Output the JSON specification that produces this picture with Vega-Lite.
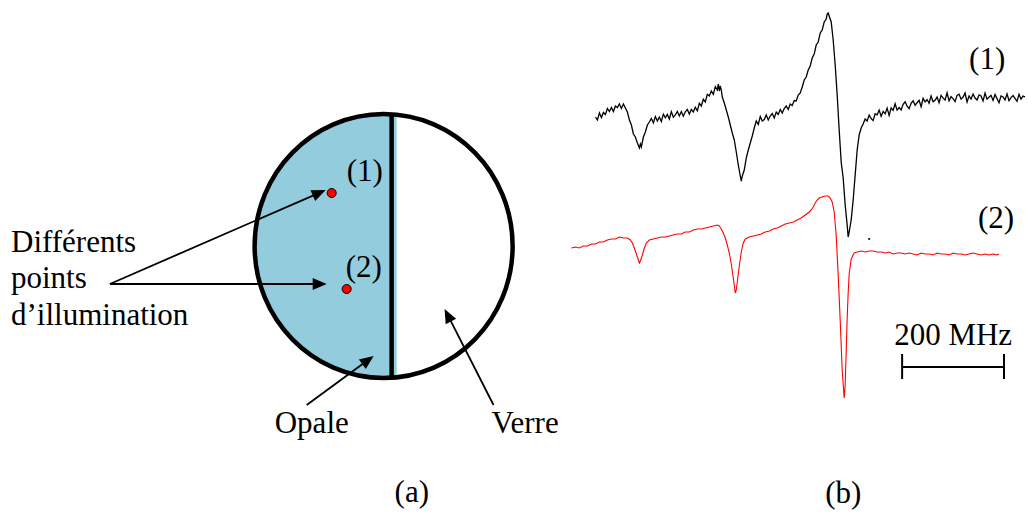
{
  "$schema": "https://vega.github.io/schema/vega-lite/v6.json",
  "autosize": {"type": "fit", "contains": "padding"},
  "width": 1028,
  "height": 513,
  "padding": 0,
  "background": "white",
  "config": {"view": {"stroke": null}},
  "datasets": {
    "center": [{"x": 384, "y": 246}],
    "divider": [{"x": 392, "y": 114, "x2": 392, "y2": 378}],
    "dots": [{"x": 332, "y": 193}, {"x": 347, "y": 289}],
    "shafts": [
      {"x": 110, "y": 284, "x2": 315, "y2": 194.8},
      {"x": 110, "y": 284, "x2": 315, "y2": 284},
      {"x": 307, "y": 405, "x2": 364.3, "y2": 363.1},
      {"x": 494, "y": 405, "x2": 450.5, "y2": 319.7}
    ],
    "heads": [
      {"x": 326, "y": 190, "angle": 336.5},
      {"x": 327, "y": 284, "angle": 0},
      {"x": 374, "y": 356, "angle": 323.8},
      {"x": 445, "y": 309, "angle": 243}
    ],
    "scalebar": [
      {"x": 903, "y": 367, "x2": 1005, "y2": 367},
      {"x": 903, "y": 354, "x2": 903, "y2": 379},
      {"x": 1005, "y": 354, "x2": 1005, "y2": 379}
    ],
    "labels": [
      {"x": 11, "y": 252, "t": "Différents"},
      {"x": 11, "y": 288, "t": "points"},
      {"x": 11, "y": 325, "t": "d’illumination"},
      {"x": 347, "y": 181, "t": "(1)"},
      {"x": 346, "y": 277, "t": "(2)"},
      {"x": 275, "y": 433, "t": "Opale"},
      {"x": 492, "y": 433, "t": "Verre"},
      {"x": 395, "y": 502, "t": "(a)"},
      {"x": 826, "y": 503, "t": "(b)"},
      {"x": 970, "y": 69, "t": "(1)"},
      {"x": 979, "y": 228, "t": "(2)"},
      {"x": 895, "y": 345, "t": "200 MHz"}
    ],
    "speck": [{"x": 870, "y": 239}],
    "trace1": [
      {"x":596,"y":117},{"x":598,"y":120},{"x":600,"y":113},{"x":602,"y":117.5},{"x":604,"y":112.5},{"x":606,"y":114.5},{"x":608,"y":108.5},{"x":610,"y":111.5},{"x":612,"y":107.5},{"x":614,"y":111.5},{"x":616,"y":106},{"x":618,"y":107.5},{"x":620,"y":104},{"x":622,"y":108.5},{"x":624,"y":104},{"x":626,"y":108},{"x":628,"y":112},{"x":630,"y":120},{"x":632,"y":125},{"x":634,"y":134},{"x":636,"y":137},{"x":638,"y":143},{"x":640,"y":148},{"x":641,"y":144},{"x":642,"y":147},{"x":644,"y":137},{"x":646,"y":132},{"x":648,"y":125},
      {"x":650,"y":122},{"x":652,"y":118.5},{"x":654,"y":123},{"x":656,"y":116.5},{"x":658,"y":121},{"x":660,"y":117},{"x":662,"y":121.6},{"x":664,"y":114.2},{"x":666,"y":117.8},{"x":668,"y":114.4},{"x":670,"y":119},{"x":672,"y":111.6},{"x":674,"y":117.2},{"x":676,"y":114.8},{"x":678,"y":111.4},{"x":680,"y":116},{"x":682,"y":111.6},{"x":684,"y":116.2},{"x":686,"y":111.8},{"x":688,"y":109.4},{"x":690,"y":114},{"x":692,"y":109.4},{"x":694,"y":111.9},{"x":696,"y":107.3},{"x":698,"y":110.8},{"x":700,"y":103.3},{"x":702,"y":106},{"x":704,"y":99.3},{"x":706,"y":102},{"x":708,"y":94.3},{"x":710,"y":96},{"x":712,"y":91},{"x":714,"y":94.3},{"x":716,"y":86.7},{"x":718,"y":90},{"x":719,"y":84},{"x":720,"y":91},{"x":721,"y":86},{"x":722,"y":90},
      {"x":723,"y":97},{"x":725,"y":103},{"x":727,"y":110},{"x":729,"y":117},{"x":731,"y":125},{"x":733,"y":133},{"x":735,"y":140},{"x":737,"y":152},{"x":739,"y":165},{"x":741,"y":176},{"x":742,"y":181},{"x":743,"y":176},{"x":745,"y":170},{"x":747,"y":158},{"x":749,"y":150},{"x":751,"y":143},{"x":753,"y":136},{"x":755,"y":128},
      {"x":757,"y":121},{"x":759,"y":124.5},{"x":761,"y":116.5},{"x":763,"y":121},{"x":765,"y":119.5},{"x":767,"y":115},{"x":769,"y":120},{"x":771,"y":116},{"x":773,"y":113.5},{"x":775,"y":118},{"x":777,"y":112},{"x":779,"y":114.5},{"x":781,"y":109.5},{"x":783,"y":113},{"x":785,"y":108.5},{"x":787,"y":106},{"x":789,"y":109.5},{"x":791,"y":104},{"x":793,"y":105.5},{"x":795,"y":100.5},{"x":797,"y":101},{"x":799,"y":95},{"x":801,"y":93},{"x":803,"y":87},{"x":805,"y":80},{"x":807,"y":77},{"x":809,"y":70},{"x":811,"y":66},{"x":813,"y":58},{"x":815,"y":54},{"x":817,"y":45},{"x":819,"y":42},{"x":821,"y":33},{"x":823,"y":30},{"x":825,"y":22},{"x":827,"y":19},{"x":828,"y":14},{"x":829,"y":13},
      {"x":830,"y":16},{"x":832,"y":22},{"x":834,"y":40},{"x":836,"y":65},{"x":838,"y":95},{"x":840,"y":130},{"x":842,"y":162},{"x":844,"y":178},{"x":846,"y":205},{"x":848,"y":225},{"x":849,"y":237},{"x":850,"y":232},{"x":852,"y":220},{"x":854,"y":200},{"x":856,"y":175},{"x":858,"y":150},{"x":860,"y":135},{"x":862,"y":128},{"x":864,"y":124},{"x":866,"y":119},
      {"x":868,"y":121},{"x":870,"y":115},{"x":872,"y":118.5},{"x":874,"y":120.6},{"x":876,"y":113.8},{"x":878,"y":114.9},{"x":880,"y":110.1},{"x":882,"y":116.3},{"x":884,"y":111.4},{"x":886,"y":113.7},{"x":888,"y":108.1},{"x":890,"y":115.5},{"x":892,"y":107.9},{"x":894,"y":110.3},{"x":896,"y":103.7},{"x":898,"y":110.1},{"x":900,"y":107.5},{"x":902,"y":109.9},{"x":904,"y":104.3},{"x":906,"y":101.75},{"x":908,"y":106.25},{"x":910,"y":108.75},{"x":912,"y":103.25},{"x":914,"y":100.75},{"x":916,"y":105.25},{"x":918,"y":102.75},{"x":920,"y":100.25},{"x":922,"y":106.75},{"x":924,"y":98.25},{"x":926,"y":101.85},{"x":928,"y":99.55},{"x":930,"y":103.25},{"x":932,"y":95.95},{"x":934,"y":101.65},{"x":936,"y":100.35},{"x":938,"y":97.05},{"x":940,"y":102.75},{"x":942,"y":95.45},{"x":944,"y":98.15},{"x":946,"y":99.95},{"x":948,"y":92.85},{"x":950,"y":100.75},{"x":952,"y":96.65},{"x":954,"y":98.55},{"x":956,"y":101.45},{"x":958,"y":95.35},{"x":960,"y":94.25},{"x":962,"y":99.15},{"x":964,"y":97.05},{"x":966,"y":93},{"x":968,"y":102},{"x":970,"y":96},{"x":972,"y":99},{"x":974,"y":94},{"x":976,"y":98},{"x":978,"y":100},{"x":980,"y":95},{"x":982,"y":96},{"x":984,"y":101},{"x":986,"y":93.05},{"x":988,"y":99.15},{"x":990,"y":97.25},{"x":992,"y":95.35},{"x":994,"y":100.45},{"x":996,"y":94.55},{"x":998,"y":98.65},{"x":1000,"y":102.75},{"x":1002,"y":95.85},{"x":1004,"y":96.95},{"x":1006,"y":99.95},{"x":1008,"y":93.85},{"x":1010,"y":100.75},{"x":1012,"y":97.65},{"x":1014,"y":95.55},{"x":1016,"y":98.45},{"x":1018,"y":101.35},{"x":1020,"y":94.25},{"x":1022,"y":99.15},{"x":1024,"y":96.05},{"x":1026,"y":96.95}
    ],
    "trace2": [
      {"x":572,"y":248},{"x":576,"y":247},{"x":580,"y":248},{"x":584,"y":246},{"x":588,"y":246},{"x":592,"y":244},{"x":596,"y":244},{"x":600,"y":242},{"x":604,"y":242},{"x":608,"y":240},{"x":612,"y":239},{"x":616,"y":239},{"x":620,"y":237},{"x":624,"y":238},{"x":628,"y":238},{"x":631,"y":240},{"x":633,"y":243},{"x":635,"y":248},{"x":637,"y":254},{"x":639,"y":260},{"x":640,"y":263},{"x":641,"y":261},{"x":643,"y":255},{"x":645,"y":248},{"x":647,"y":243},{"x":650,"y":240},{"x":654,"y":239},{"x":658,"y":238},{"x":662,"y":237},{"x":666,"y":237},{"x":670,"y":236},{"x":674,"y":235},{"x":678,"y":234},{"x":682,"y":234},{"x":686,"y":232},{"x":690,"y":232},{"x":694,"y":230},{"x":698,"y":229},{"x":702,"y":229},{"x":706,"y":228},{"x":710,"y":227},{"x":714,"y":226},{"x":718,"y":225},{"x":720,"y":226},{"x":722,"y":229},{"x":724,"y":233},{"x":726,"y":238},{"x":728,"y":245},{"x":730,"y":253},{"x":732,"y":264},{"x":734,"y":278},{"x":736,"y":293},{"x":737,"y":290},{"x":738,"y":282},{"x":740,"y":266},{"x":742,"y":252},{"x":744,"y":243},{"x":746,"y":239},{"x":750,"y":237},{"x":754,"y":236},{"x":758,"y":235},{"x":762,"y":234},{"x":766,"y":232},{"x":770,"y":231},{"x":774,"y":229},{"x":778,"y":228},{"x":782,"y":226},{"x":786,"y":224},{"x":790,"y":223},{"x":794,"y":222},{"x":798,"y":220},{"x":802,"y":218},{"x":806,"y":215},{"x":810,"y":212},{"x":812,"y":210},{"x":814,"y":207},{"x":816,"y":203},{"x":818,"y":200},{"x":820,"y":198},{"x":823,"y":197},{"x":826,"y":196},{"x":829,"y":196},{"x":831,"y":198},{"x":833,"y":202},{"x":835,"y":212},{"x":837,"y":235},{"x":839,"y":275},{"x":841,"y":320},{"x":843,"y":370},{"x":845,"y":398},{"x":846,"y":385},{"x":847,"y":352},{"x":848,"y":318},{"x":849,"y":293},{"x":850,"y":274},{"x":852,"y":259},{"x":855,"y":253},{"x":858,"y":252},{"x":862,"y":251},{"x":866,"y":252},{"x":870,"y":251},{"x":874,"y":251},{"x":878,"y":252},{"x":882,"y":252},{"x":886,"y":253},{"x":890,"y":252},{"x":894,"y":254},{"x":898,"y":253},{"x":902,"y":253},{"x":906,"y":254},{"x":910,"y":253},{"x":914,"y":254},{"x":918,"y":255},{"x":922,"y":253},{"x":926,"y":254},{"x":930,"y":254},{"x":934,"y":255},{"x":938,"y":253},{"x":942,"y":254},{"x":946,"y":254},{"x":950,"y":255},{"x":954,"y":253},{"x":958,"y":254},{"x":962,"y":254},{"x":966,"y":255},{"x":970,"y":254},{"x":974,"y":253},{"x":978,"y":254},{"x":982,"y":255},{"x":986,"y":254},{"x":990,"y":255},{"x":994,"y":254},{"x":998,"y":255},{"x":1000,"y":254}
    ]
  },
  "encoding": {
    "x": {"field": "x", "type": "quantitative", "axis": null, "scale": {"domain": [0, 1028], "nice": false, "zero": false}},
    "y": {"field": "y", "type": "quantitative", "axis": null, "scale": {"domain": [0, 513], "nice": false, "zero": false, "reverse": true}}
  },
  "layer": [
    {
      "data": {"name": "center"},
      "mark": {"type": "point", "shape": "M 0.1008 -1.02 L 0 -1.0233 C -0.5523 -1.0233 -1 -0.5652 -1 0 C -1 0.5652 -0.5523 1.0233 0 1.0233 L 0.1008 1.02 Z", "size": 66564, "filled": true, "fill": "#93CDDD", "strokeWidth": 0, "opacity": 1}
    },
    {
      "data": {"name": "divider"},
      "mark": {"type": "rule", "color": "#000000", "strokeWidth": 4.5},
      "encoding": {"x2": {"field": "x2"}, "y2": {"field": "y2"}}
    },
    {
      "data": {"name": "center"},
      "mark": {"type": "point", "shape": "M 1 0 C 1 0.5652 0.5523 1.0233 0 1.0233 C -0.5523 1.0233 -1 0.5652 -1 0 C -1 -0.5652 -0.5523 -1.0233 0 -1.0233 C 0.5523 -1.0233 1 -0.5652 1 0 Z", "size": 66564, "filled": false, "stroke": "#000000", "strokeWidth": 4.5, "opacity": 1}
    },
    {
      "data": {"name": "dots"},
      "mark": {"type": "point", "shape": "circle", "size": 81, "filled": true, "fill": "#FF0000", "stroke": "#000000", "strokeWidth": 1, "opacity": 1}
    },
    {
      "data": {"name": "shafts"},
      "mark": {"type": "rule", "color": "#000000", "strokeWidth": 1.8},
      "encoding": {"x2": {"field": "x2"}, "y2": {"field": "y2"}}
    },
    {
      "data": {"name": "heads"},
      "mark": {"type": "point", "shape": "M 0 0 L -1 -0.42 L -1 0.42 Z", "size": 784, "filled": true, "fill": "#000000", "strokeWidth": 0, "opacity": 1},
      "encoding": {"angle": {"field": "angle", "type": "quantitative", "scale": null}}
    },
    {
      "data": {"name": "trace1"},
      "mark": {"type": "line", "color": "#000000", "strokeWidth": 1.3},
      "encoding": {"order": {"field": "x", "type": "quantitative"}}
    },
    {
      "data": {"name": "trace2"},
      "mark": {"type": "line", "color": "#FF0000", "strokeWidth": 1.1},
      "encoding": {"order": {"field": "x", "type": "quantitative"}}
    },
    {
      "data": {"name": "speck"},
      "mark": {"type": "point", "shape": "square", "size": 4, "filled": true, "fill": "#333333", "strokeWidth": 0, "opacity": 1}
    },
    {
      "data": {"name": "scalebar"},
      "mark": {"type": "rule", "color": "#000000", "strokeWidth": 2},
      "encoding": {"x2": {"field": "x2"}, "y2": {"field": "y2"}}
    },
    {
      "data": {"name": "labels"},
      "mark": {"type": "text", "font": "Liberation Serif", "fontSize": 31, "align": "left", "baseline": "alphabetic", "color": "#000000"},
      "encoding": {"text": {"field": "t", "type": "nominal"}}
    }
  ]
}
